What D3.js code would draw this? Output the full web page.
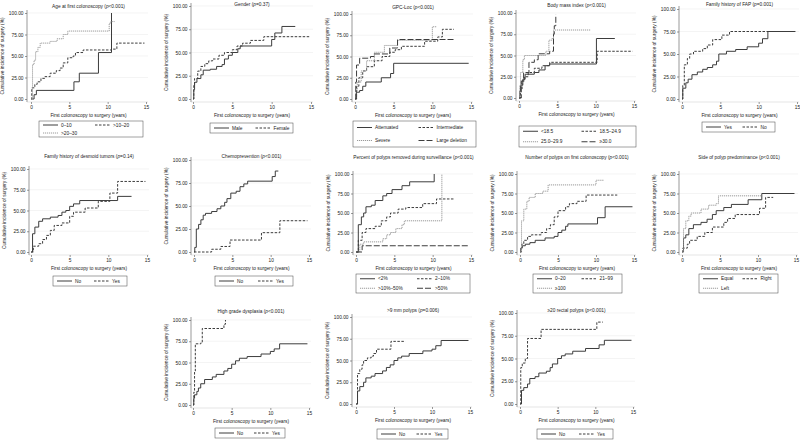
<!DOCTYPE html>
<html><head><meta charset="utf-8">
<script src="https://cdn.jsdelivr.net/npm/d3@7"></script>
<style>body{margin:0;background:#fff}svg{display:block}text{font-family:"Liberation Sans",Arial,sans-serif;fill:#222}</style>
</head><body><svg id="c" width="800" height="440"></svg>
<script>
// ---------- data (time in years, cumulative incidence %) ----------
const xTicks = [0, 5, 10, 15];
const yTicks = [0, 25, 50, 75, 100];

const ageLabels = ["0–10", ">10–20", ">20–30"];
const age0_10 = [[0,0],[0.4,5],[0.7,10],[5.6,20],[6.3,30],[8.8,54],[10.5,100]];
const age10_20 = [[0,0],[0.1,13],[0.5,17],[0.8,20],[1.3,24],[1.8,26],[2.5,30],[3.3,33],[3.8,36],[4.2,42],[4.8,48],[5.5,50],[5.8,54],[6.8,57],[10.5,58],[11.2,65],[14.8,65]];
const age20_30 = [[0,0],[0.2,40],[0.4,45],[0.6,55],[0.9,60],[1.2,65],[2.5,67],[3.4,70],[4.2,75],[4.8,79],[10.2,88],[10.4,90],[10.9,90]];

const genderLabels = ["Male", "Female"];
const genderMale = [[0,0],[0.1,10],[0.2,18],[0.5,22],[1,26],[1.3,31],[2.2,32],[3,35],[3.7,37],[4,43],[4.5,47],[5,50],[5.7,54],[6,57],[10,64],[10.4,71],[11.3,78],[13,78]];
const genderFemale = [[0,0],[0.1,15],[0.2,22],[0.6,30],[1,35],[1.5,38],[2,41],[2.5,43],[3.3,47],[4,50],[5,53],[5.6,57],[6.3,60],[7.3,63],[9,67],[14.8,67]];

const gpcLabels = ["Attenuated", "Intermediate", "Severe", "Large deletion"];
const gpcAtt = [[0,0],[0.2,8],[0.6,10],[1,15],[1.4,20],[3.4,25],[4.6,30],[5,42],[14.7,42]];
const gpcInt = [[0,0],[0.2,15],[0.5,25],[1,33],[1.5,38],[2.5,45],[3.5,50],[4.5,55],[5.2,58],[6,62],[9,68],[10.7,73],[11.3,82],[12.8,82]];
const gpcSev = [[0,0],[0.1,10],[0.3,20],[0.8,33],[1.5,45],[2.5,55],[3.8,63],[5.5,69],[10,85],[10.6,85]];
const gpcDel = [[0,0],[0.1,20],[0.2,40],[0.6,48],[2,50],[2.5,53],[4.5,60],[5.5,70],[12.8,70]];

const bmiLabels = ["<18.5", "18.5–24.9", "25.0–29.9", "≥30.0"];
const bmiLt185 = [[0,0],[0.1,8],[0.2,15],[0.5,22],[0.8,28],[2,30],[2.6,33],[3.4,38],[4,40],[10.1,70],[12.5,70]];
const bmi185 = [[0,0],[0.2,10],[0.4,20],[0.7,25],[1.2,30],[2,35],[3,38],[4,42],[10.2,55],[14.8,55]];
const bmi25 = [[0,0],[0.1,15],[0.2,30],[0.5,45],[0.7,50],[3.5,55],[3.9,68],[4.3,70],[4.5,80],[9.3,80]];
const bmi30 = [[0,0],[0.3,20],[0.6,30],[1.3,42],[2,45],[2.5,52],[4,55],[4.5,75],[4.6,85],[4.8,98]];

const fapLabels = ["Yes", "No"];
const fapYes = [[0,0],[0.1,12],[0.5,18],[0.8,22],[1.3,27],[2,30],[2.7,33],[3.3,35],[4,38],[4.5,42],[4.8,50],[5.8,53],[7,55],[8.5,58],[10,62],[10.5,67],[11.2,75],[14.8,75]];
const fapNo = [[0,0],[0.1,15],[0.3,38],[0.7,45],[1,50],[1.5,53],[2.7,56],[3.3,60],[4,66],[5.2,71],[6.2,75],[14.5,75]];

const desLabels = ["No", "Yes"];
const desNo = [[0,0],[0.2,22],[0.5,30],[1,37],[1.5,40],[2.5,42],[3.5,44],[4,48],[4.5,50],[5,55],[5.5,58],[6.3,62],[11.2,67],[13,67]];
const desYes = [[0,0],[0.3,7],[1,10],[1.5,15],[2,20],[2.5,26],[3,32],[4,35],[5,43],[5.5,48],[7,53],[8.7,61],[10.2,71],[11.2,85],[14.8,85]];

const chemoLabels = ["No", "Yes"];
const chemoNo = [[0,0],[0.1,5],[0.3,25],[0.6,30],[0.9,35],[1.2,40],[1.5,42],[2.3,44],[3,47],[3.5,50],[4,54],[4.3,58],[4.8,64],[5.5,66],[6,71],[6.5,74],[7,77],[10.2,82],[10.6,88],[11,88]];
const chemoYes = [[0,0],[2.3,3],[3.5,6],[4.7,13],[8.8,21],[11.2,34],[14.8,34]];

const pctLabels = ["<2%", "2–10%", ">10%–50%", ">50%"];
const pctLt2 = [[0,0],[0.3,35],[0.7,45],[1,50],[1.3,58],[2,60],[2.5,66],[3.5,72],[4,75],[4.7,80],[6,85],[7,90],[10.2,100]];
const pct2_10 = [[0,0],[0.3,15],[0.8,25],[1.3,30],[2.5,33],[3.3,40],[4,45],[4.5,50],[5.5,55],[6.5,57],[8.7,62],[10.5,68],[12.8,68]];
const pct10_50 = [[0,0],[0.5,10],[1,13],[3.5,17],[4,22],[4.5,25],[5.2,30],[6,35],[6.3,40],[11.2,100]];
const pctGt50 = [[0,0],[0.8,8],[14.8,8]];

const numLabels = ["0–20", "21–99", "≥100"];
const num0_20 = [[0,0],[0.1,5],[0.3,8],[0.7,10],[1.3,12],[2,15],[3.3,18],[4.5,20],[5,25],[5.5,28],[6,33],[6.3,36],[10.2,44],[11.2,58],[14.8,58]];
const num21_99 = [[0,0],[0.2,10],[0.5,15],[1,20],[1.5,22],[2.8,25],[3.5,30],[4,35],[4.5,45],[5,53],[6,58],[6.5,62],[7.5,65],[8.7,73],[12.8,73]];
const num100 = [[0,0],[0.2,40],[0.5,55],[0.9,65],[1.2,70],[2,75],[3,78],[3.7,86],[10,92],[11,92]];

const sideLabels = ["Equal", "Right", "Left"];
const sideEqual = [[0,0],[0.2,18],[0.5,22],[0.9,30],[1.5,35],[2.5,38],[3.3,42],[4,48],[4.5,53],[5.5,57],[6.5,61],[8.7,67],[10.5,75],[14.8,75]];
const sideRight = [[0,0],[0.1,5],[0.7,10],[1,15],[2,20],[3,25],[4,32],[5.5,38],[6,43],[7,48],[10.2,56],[11,70],[12,70]];
const sideLeft = [[0,0],[0.2,30],[0.5,40],[0.9,46],[1.2,50],[2.5,55],[3.5,60],[4.5,62],[4.8,72],[10.5,72]];

const hgdLabels = ["No", "Yes"];
const hgdNo = [[0,0],[0.1,8],[0.2,12],[0.5,16],[0.7,20],[1,25],[1.5,30],[2.5,33],[3,36],[4,40],[4.5,43],[5,48],[5.5,52],[6,55],[7,57],[8.8,60],[10,63],[10.5,66],[11.2,72],[14.8,72]];
const hgdYes = [[0,0],[0.1,15],[0.2,40],[0.3,72],[1,73],[1.2,90],[4,95],[4.2,100]];

const mm9Labels = ["No", "Yes"];
const mm9No = [[0,0],[0.2,15],[0.5,20],[1,25],[1.3,30],[2,32],[2.5,35],[3.5,38],[4,42],[4.5,45],[5,50],[5.5,53],[6,55],[7,58],[8.8,61],[10,63],[10.5,67],[11.2,73],[14.8,73]];
const mm9Yes = [[0,0],[0.2,35],[0.5,40],[0.8,45],[1,50],[1.5,53],[2,55],[2.3,58],[2.7,63],[4.6,72],[6.5,72]];

const recLabels = ["No", "Yes"];
const recNo = [[0,0],[0.2,15],[0.5,18],[1,22],[1.3,28],[2,30],[2.5,34],[3.5,36],[4,40],[4.3,44],[5,50],[5.5,53],[6,55],[7,58],[8.7,61],[10.5,65],[11.2,70],[14.8,70]];
const recYes = [[0,0],[0.1,40],[0.3,45],[0.7,50],[1,72],[2.8,82],[10.2,90],[11,90]];

const panelTitles = ["Age at first colonoscopy","Gender","GPC-Loc","Body mass index","Family history of FAP",
  "Family history of desmoid tumors","Chemoprevention","Percent of polyps removed during surveillance",
  "Number of polyps on first colonoscopy","Side of polyp predominance","High grade dysplasia",">9 mm polyps","≥20 rectal polyps"];
const pValues = ["<0.001","=0.37","<0.001","<0.001","=0.001","=0.14","<0.001","<0.001","<0.001","<0.001","<0.001","=0.006","<0.001"];
const panelSeries = [[age0_10,age10_20,age20_30],[genderMale,genderFemale],[gpcAtt,gpcInt,gpcSev,gpcDel],
  [bmiLt185,bmi185,bmi25,bmi30],[fapYes,fapNo],[desNo,desYes],[chemoNo,chemoYes],[pctLt2,pct2_10,pct10_50,pctGt50],
  [num0_20,num21_99,num100],[sideEqual,sideRight,sideLeft],[hgdNo,hgdYes],[mm9No,mm9Yes],[recNo,recYes]];
const panelLabels = [ageLabels,genderLabels,gpcLabels,bmiLabels,fapLabels,desLabels,chemoLabels,pctLabels,numLabels,sideLabels,hgdLabels,mm9Labels,recLabels];

// ---------- layout (pixels) ----------
const layout = [
  {ax:27, x0:31, x15:146, y100:13, y0:99, ty:6, lg:[39,121,104,16]},
  {ax:191, x0:193, x15:311, y100:6, y0:99, ty:4, lg:[210,123,83,10]},
  {ax:352, x0:355, x15:471, y100:14, y0:99, ty:7, lg:[353,121,123,26]},
  {ax:516, x0:519, x15:634, y100:13, y0:98, ty:5, lg:[519,126,117,21]},
  {ax:679, x0:682, x15:797, y100:9, y0:99, ty:4, lg:[702,122,73,10]},
  {ax:29, x0:31, x15:147, y100:169, y0:252, ty:156, lg:[53,276,74,10]},
  {ax:191, x0:194, x15:309, y100:160, y0:252, ty:156, lg:[215,276,78,10]},
  {ax:353, x0:356, x15:471, y100:174, y0:252, ty:157, lg:[356,274,114,19]},
  {ax:517, x0:520, x15:634, y100:174, y0:252, ty:157, lg:[533,274,89,19]},
  {ax:679, x0:682, x15:796, y100:174, y0:252, ty:157, lg:[699,274,79,19]},
  {ax:191, x0:193, x15:309, y100:320, y0:405, ty:311, lg:[215,428,70,10]},
  {ax:352, x0:356, x15:470, y100:317, y0:404, ty:310, lg:[377,429,71,10]},
  {ax:517, x0:520, x15:633, y100:313, y0:404, ty:310, lg:[537,429,76,10]}
];
const styles = [
  {stroke:"#3c3c3c", dash:null, w:1},
  {stroke:"#3c3c3c", dash:"2.5,1.5", w:1},
  {stroke:"#9a9a9a", dash:"1.2,0.8", w:1},
  {stroke:"#3c3c3c", dash:"6,2", w:1}
];
const FS = 4.8;

const svg = d3.select("#c");
panelTitles.forEach((title, i) => {
  const L = layout[i];
  const g = svg.append("g");
  const x = d3.scaleLinear().domain([0, 15]).range([L.x0, L.x15]);
  const y = d3.scaleLinear().domain([0, 100]).range([L.y0, L.y100]);
  const right = L.x15 + 2;
  // grid
  g.selectAll(".grid").data(yTicks.slice(1)).join("line")
    .attr("x1", L.ax).attr("x2", right).attr("y1", d => y(d)).attr("y2", d => y(d))
    .attr("stroke", "#ececec").attr("stroke-width", 0.6);
  // y axis
  const yA = g.append("g").attr("transform", `translate(${L.ax},0)`)
    .call(d3.axisLeft(y).tickValues(yTicks).tickFormat(d3.format(".2f")).tickSize(2).tickPadding(1.5));
  yA.select(".domain").attr("stroke", "#555").attr("stroke-width", 0.6).attr("d", `M0,${L.y100 - 3}V${L.y0 + 3}`);
  // x axis
  const xA = g.append("g").attr("transform", `translate(0,${L.y0 + 3})`)
    .call(d3.axisBottom(x).tickValues(xTicks).tickSize(2).tickPadding(1.5));
  xA.select(".domain").attr("stroke", "#bbb").attr("stroke-width", 0.4).attr("d", `M${L.ax},0H${right}`);
  [yA, xA].forEach(a => {
    a.selectAll(".tick line").attr("stroke", "#555").attr("stroke-width", 0.6);
    a.selectAll("text").style("font-size", FS + "px").attr("fill", "#222").style("font-family", '"Liberation Sans",Arial,sans-serif');
  });
  // axis titles
  g.append("text").attr("x", (L.x0 + L.x15) / 2).attr("y", L.y0 + 17.5).attr("text-anchor", "middle")
    .style("font-size", FS + "px").text("First colonoscopy to surgery (years)");
  g.append("text").attr("transform", `translate(${L.ax - 25},${(L.y0 + L.y100) / 2}) rotate(-90)`)
    .attr("text-anchor", "middle").attr("dy", "0.35em").style("font-size", FS + "px").text("Cumulative incidence of surgery (%)");
  // title
  const t = g.append("text").attr("x", (L.x0 + L.x15) / 2).attr("y", L.ty).attr("dy", "0.35em")
    .attr("text-anchor", "middle").style("font-size", FS + "px");
  t.append("tspan").text(title + " (");
  t.append("tspan").attr("font-style", "italic").text("p");
  t.append("tspan").text(pValues[i] + ")");
  // curves
  const line = d3.line().x(d => x(d[0])).y(d => y(d[1])).curve(d3.curveStepAfter);
  panelSeries[i].forEach((s, k) => {
    const st = styles[k];
    g.append("path").datum(s).attr("d", line).attr("fill", "none")
      .attr("stroke", st.stroke).attr("stroke-width", st.w).attr("stroke-dasharray", st.dash);
  });
  // legend
  const [lx, ly, lw, lh] = L.lg;
  const lg = g.append("g");
  lg.append("rect").attr("x", lx).attr("y", ly).attr("width", lw).attr("height", lh)
    .attr("fill", "#fff").attr("stroke", "#444").attr("stroke-width", 0.5);
  const labels = panelLabels[i];
  const nRows = Math.ceil(labels.length / 2);
  const rowH = lh / nRows;
  labels.forEach((lab, k) => {
    const col = k % 2, row = Math.floor(k / 2);
    const cx = lx + 4 + col * lw / 2;
    const cy = ly + rowH * (row + 0.5);
    const st = styles[k];
    lg.append("line").attr("x1", cx).attr("x2", cx + 15).attr("y1", cy).attr("y2", cy)
      .attr("stroke", st.stroke).attr("stroke-width", st.w).attr("stroke-dasharray", st.dash);
    lg.append("text").attr("x", cx + 18).attr("y", cy).attr("dy", "0.35em").style("font-size", FS + "px").text(lab);
  });
});
</script></body></html>
